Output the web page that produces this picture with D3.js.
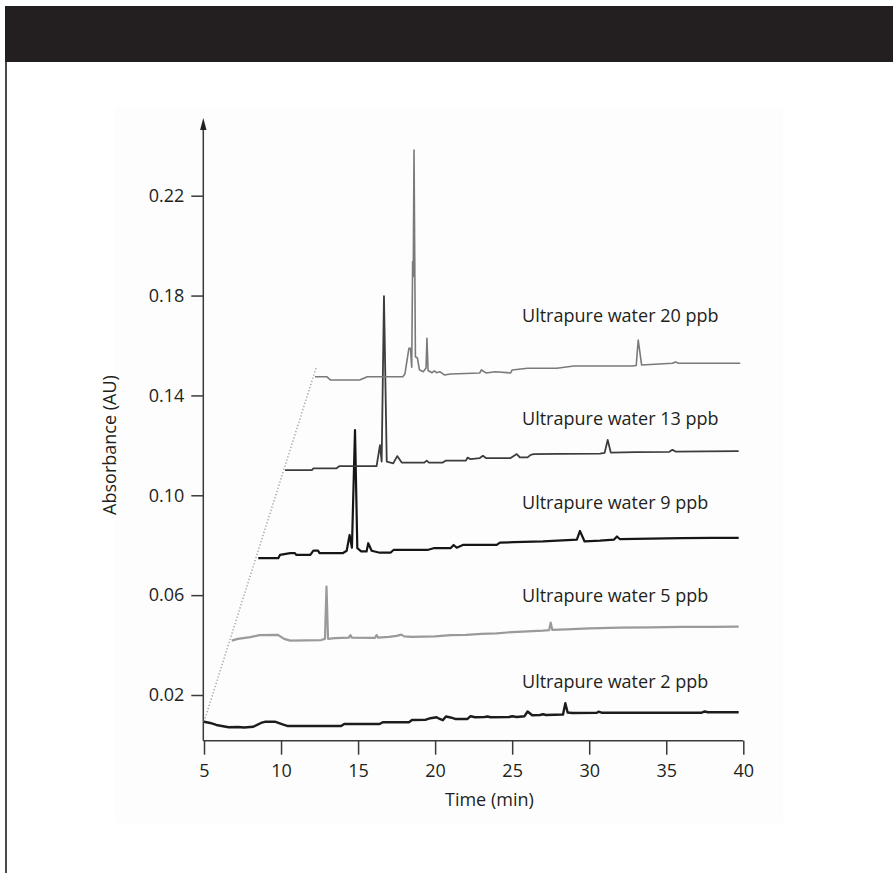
<!DOCTYPE html>
<html>
<head>
<meta charset="utf-8">
<script src="https://cdn.jsdelivr.net/npm/d3@7"></script>
<style>
  html, body { margin: 0; padding: 0; background: #ffffff; }
  svg { display: block; }
  text { font-family: "Open Sans", "Noto Sans", sans-serif; fill: #231f20; }
</style>
</head>
<body>
<svg id="chart" width="893" height="873"></svg>
<script>
// ---------------- DATA ----------------
const xTicks = [5, 10, 15, 20, 25, 30, 35, 40];
const yTicks = [0.02, 0.06, 0.10, 0.14, 0.18, 0.22];
const xTitle = "Time (min)";
const yTitle = "Absorbance (AU)";

const seriesNames = ["Ultrapure water 2 ppb", "Ultrapure water 5 ppb", "Ultrapure water 9 ppb",
                     "Ultrapure water 13 ppb", "Ultrapure water 20 ppb"];

// [time (min), absorbance (AU)]
const trace2ppb = [[5.0,0.0093],[5.4,0.0088],[5.8,0.0080],[6.6,0.0071],[7.2,0.0072],[7.6,0.0070],[8.2,0.0073],
  [8.7,0.0088],[9.0,0.0093],[9.6,0.0093],[10.1,0.0082],[10.4,0.0076],[13.9,0.0076],[14.1,0.0084],[16.4,0.0084],
  [16.6,0.0091],[18.3,0.0091],[18.5,0.0100],[19.4,0.0101],[19.7,0.0107],[20.1,0.0111],[20.3,0.0104],[20.5,0.0099],
  [20.7,0.0114],[21.0,0.0110],[21.3,0.0104],[22.1,0.0104],[22.3,0.0115],[22.6,0.0111],[23.2,0.0112],[23.4,0.0114],
  [23.6,0.0111],[24.8,0.0112],[25.0,0.0115],[25.3,0.0112],[25.8,0.0115],[26.0,0.0134],[26.3,0.0119],[26.8,0.0120],
  [27.0,0.0123],[27.2,0.0120],[28.3,0.0122],[28.45,0.0167],[28.6,0.0130],[28.9,0.0128],[30.5,0.0129],[30.6,0.0133],
  [30.8,0.0129],[37.3,0.0129],[37.5,0.0134],[37.7,0.0131],[39.7,0.0131]];

const trace5ppb = [[6.8,0.0418],[7.2,0.0425],[8.0,0.0432],[8.6,0.0440],[9.8,0.0441],[10.2,0.0425],[10.6,0.0418],
  [12.6,0.0420],[12.85,0.0425],[12.95,0.0634],[13.05,0.0425],[13.5,0.0428],[14.4,0.0430],[14.5,0.0440],[14.6,0.0430],
  [16.1,0.0429],[16.2,0.0440],[16.3,0.0430],[17.0,0.0433],[17.5,0.0437],[17.8,0.0442],[18.0,0.0435],[18.5,0.0433],
  [20.0,0.0435],[21.0,0.0440],[22.0,0.0441],[23.0,0.0445],[24.0,0.0447],[25.0,0.0452],[26.0,0.0455],[27.0,0.0458],
  [27.4,0.0460],[27.5,0.0490],[27.6,0.0461],[28.5,0.0463],[30.0,0.0467],[32.0,0.0470],[34.0,0.0471],[36.0,0.0473],
  [38.0,0.0473],[39.7,0.0474]];

const trace9ppb = [[8.52,0.0748],[9.82,0.0748],[9.93,0.0761],[10.6,0.0768],[10.9,0.0768],[11.0,0.0761],[11.9,0.0761],
  [12.1,0.0778],[12.4,0.0778],[12.5,0.0768],[14.0,0.0768],[14.26,0.0778],[14.45,0.0841],[14.6,0.0790],[14.8,0.1261],
  [14.95,0.0788],[15.2,0.0775],[15.55,0.0775],[15.66,0.0808],[15.88,0.0778],[16.4,0.0770],[17.1,0.0770],[17.3,0.0781],
  [19.5,0.0781],[19.9,0.0788],[21.0,0.0788],[21.2,0.0801],[21.4,0.0790],[21.8,0.0801],[24.0,0.0801],[24.2,0.0810],
  [25.1,0.0812],[27.0,0.0815],[28.9,0.0821],[29.2,0.0822],[29.4,0.0857],[29.7,0.0815],[30.7,0.0818],[31.6,0.0822],
  [31.8,0.0835],[32.0,0.0824],[34.0,0.0826],[36.0,0.0828],[38.0,0.0829],[39.7,0.0829]];

const trace13ppb = [[10.26,0.1101],[12.0,0.1101],[12.1,0.1108],[13.6,0.1108],[13.8,0.1117],[16.2,0.1117],[16.42,0.1201],
  [16.53,0.1135],[16.68,0.1798],[16.86,0.1135],[17.28,0.1128],[17.54,0.1157],[17.83,0.1131],[19.3,0.1131],[19.45,0.1139],
  [19.6,0.1131],[20.5,0.1131],[20.7,0.1139],[22.0,0.1139],[22.1,0.1151],[22.3,0.1145],[22.9,0.1149],[23.1,0.1158],
  [23.3,0.1149],[24.9,0.1149],[25.3,0.1165],[25.5,0.1152],[26.0,0.1152],[26.2,0.1162],[26.4,0.1165],[28.0,0.1166],
  [30.7,0.1167],[31.0,0.1170],[31.2,0.1222],[31.4,0.1171],[33.0,0.1173],[35.2,0.1174],[35.4,0.1182],[35.6,0.1175],
  [37.5,0.1176],[39.7,0.1177]];

const trace20ppb = [[12.2,0.1475],[12.96,0.1475],[13.2,0.1462],[15.1,0.1462],[15.6,0.1475],[17.9,0.1475],[18.04,0.1486],
  [18.3,0.1589],[18.4,0.1589],[18.48,0.1513],[18.54,0.1936],[18.58,0.1876],[18.63,0.2383],[18.72,0.1555],[18.85,0.1550],
  [18.98,0.1503],[19.23,0.1495],[19.41,0.1510],[19.47,0.1629],[19.54,0.1500],[19.8,0.1491],[19.95,0.1498],[20.1,0.1491],
  [20.3,0.1495],[20.6,0.1482],[21.0,0.1486],[22.9,0.1490],[23.0,0.1502],[23.3,0.1490],[23.9,0.1495],[24.9,0.1490],
  [25.0,0.1502],[26.0,0.1509],[27.9,0.1509],[29.0,0.1518],[32.8,0.1518],[33.05,0.1520],[33.18,0.1622],[33.4,0.1522],
  [35.4,0.1529],[35.6,0.1534],[35.8,0.1529],[39.8,0.1529]];

// dotted guide joining the start of each trace
const guideLine = [[5.0,0.0093],[12.3,0.1515]];

// label anchor (time, absorbance) for each series name
const labelTime = [25.64, 25.64, 25.64, 25.64, 25.64];
const labelAbs  = [0.0228, 0.0574, 0.0945, 0.1282, 0.1695];

// ---------------- CHART ----------------
const svg = d3.select("#chart");

// header bar and frame
svg.append("rect").attr("x", 5).attr("y", 6).attr("width", 888).attr("height", 56).attr("fill", "#231f20");
svg.append("line").attr("x1", 6).attr("x2", 6).attr("y1", 62).attr("y2", 873)
  .attr("stroke", "#4a4a4a").attr("stroke-width", 2);
svg.append("rect").attr("x", 115).attr("y", 107).attr("width", 668).attr("height", 716).attr("fill", "#fdfdfd");

const x = d3.scaleLinear().domain([5, 40]).range([204, 743.3]);
const y = d3.scaleLinear().domain([0.02, 0.22]).range([695, 195.7]);
const yBottom = 740.7, yTop = 118;

// axes
const xAxis = d3.axisBottom(x).tickValues(xTicks).tickSize(14).tickSizeOuter(0).tickFormat(d3.format("d"));
const gx = svg.append("g").attr("transform", `translate(0,${yBottom})`).call(xAxis);
gx.select(".domain").remove();
gx.append("line").attr("x1", x(5) - 0.7).attr("x2", x(40)).attr("stroke", "#3a3a3a").attr("stroke-width", 1.5);
gx.selectAll(".tick line").attr("stroke", "#3a3a3a").attr("stroke-width", 1.5);
gx.selectAll(".tick text").attr("y", 24).attr("font-size", 18).attr("fill", "#231f20")
  .style("font-family", '"Open Sans", "Noto Sans", sans-serif');

const yAxis = d3.axisLeft(y).tickValues(yTicks).tickSize(12).tickSizeOuter(0).tickFormat(d3.format(".2f"));
const gy = svg.append("g").attr("transform", `translate(${x(5) - 0.7},0)`).call(yAxis);
gy.select(".domain").remove();
gy.append("line").attr("y1", yBottom).attr("y2", yTop + 8).attr("stroke", "#3a3a3a").attr("stroke-width", 1.5);
gy.append("path").attr("d", `M0,${yTop} L-3.2,${yTop + 12} L3.2,${yTop + 12} Z`).attr("fill", "#231f20");
gy.selectAll(".tick line").attr("stroke", "#3a3a3a").attr("stroke-width", 1.5);
gy.selectAll(".tick text").attr("x", -19).attr("font-size", 18).attr("fill", "#231f20")
  .style("font-family", '"Open Sans", "Noto Sans", sans-serif');

// titles
svg.append("text").attr("x", 445).attr("y", 806).attr("font-size", 18).text(xTitle);
svg.append("text").attr("transform", "translate(116,445) rotate(-90)").attr("text-anchor", "middle")
  .attr("font-size", 18).text(yTitle);

// guide
const line = d3.line().x(d => x(d[0])).y(d => y(d[1]));
svg.append("path").datum(guideLine).attr("d", line).attr("fill", "none")
  .attr("stroke", "#9a9a9a").attr("stroke-width", 1.3).attr("stroke-dasharray", "1.3,2");

// traces
const traces = [
  {data: trace2ppb, color: "#1c1c1c", w: 2.4},
  {data: trace5ppb, color: "#9a9a9a", w: 2.2},
  {data: trace9ppb, color: "#161616", w: 2.2},
  {data: trace13ppb, color: "#3c3c3c", w: 1.8},
  {data: trace20ppb, color: "#7a7a7a", w: 1.6}
];
traces.forEach(t => {
  svg.append("path").datum(t.data).attr("d", line).attr("fill", "none")
    .attr("stroke", t.color).attr("stroke-width", t.w).attr("stroke-linejoin", "round");
});

// labels
seriesNames.forEach((name, i) => {
  svg.append("text").attr("x", x(labelTime[i])).attr("y", y(labelAbs[i]))
    .attr("font-size", 18).text(name);
});
</script>
</body>
</html>
